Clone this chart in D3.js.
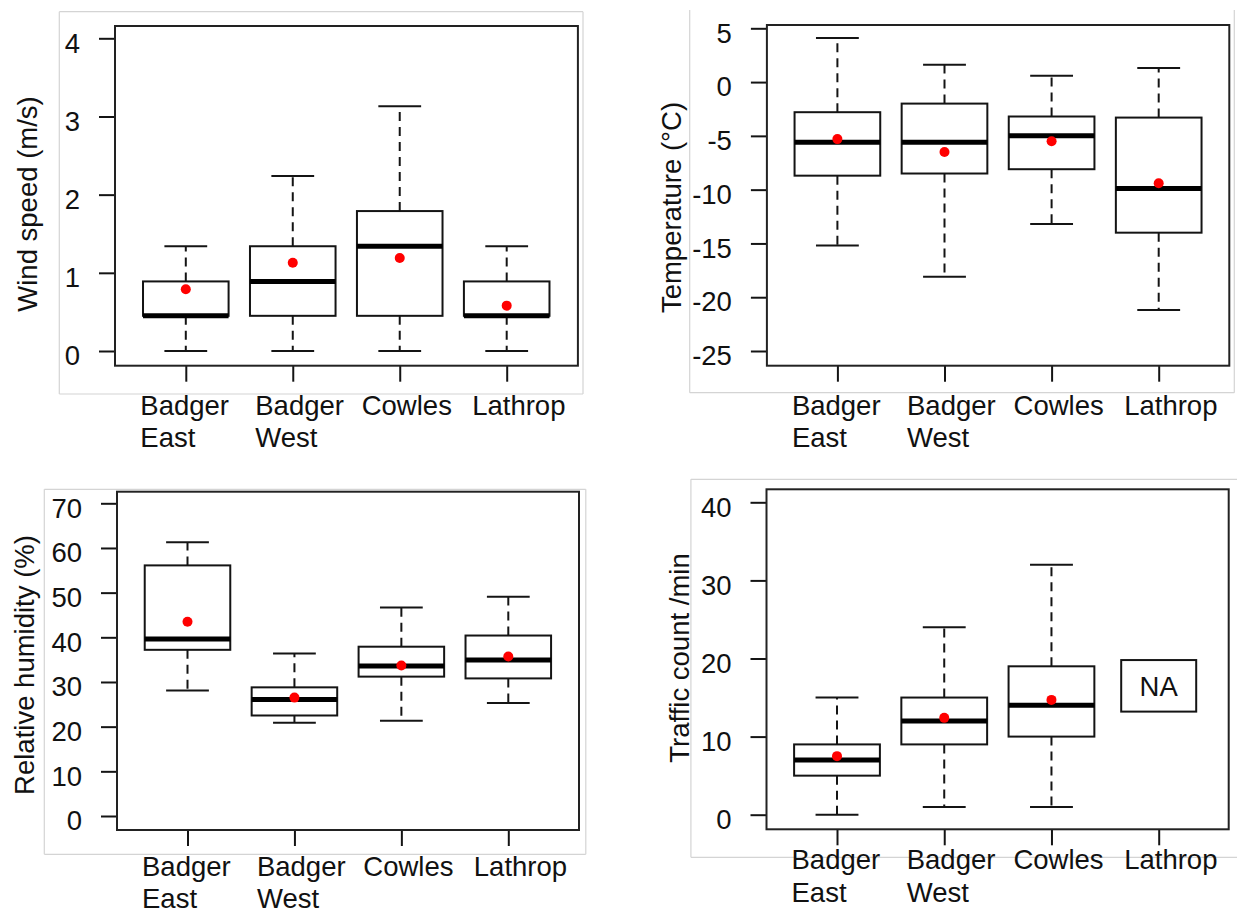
<!DOCTYPE html>
<html>
<head>
<meta charset="utf-8">
<script src="https://cdn.jsdelivr.net/npm/d3@7"></script>
<style>
  html, body { margin: 0; padding: 0; background: #fff; }
  svg { display: block; }
  text { font-family: "Liberation Sans", Arial, sans-serif; fill: #111; }
</style>
</head>
<body>
<svg id="chart" width="1237" height="915"></svg>
<script>
// ---------- DATA ----------
const categories = ["Badger East", "Badger West", "Cowles", "Lathrop"];
const categoryLines = [["Badger", "East"], ["Badger", "West"], ["Cowles"], ["Lathrop"]];

// Wind speed (m/s)
const windLower  = [0, 0, 0, 0];
const windQ1     = [0.45, 0.45, 0.45, 0.45];
const windMedian = [0.45, 0.89, 1.34, 0.45];
const windQ3     = [0.89, 1.34, 1.79, 0.89];
const windUpper  = [1.34, 2.24, 3.13, 1.34];
const windMean   = [0.79, 1.13, 1.19, 0.58];
const windTicks  = [0, 1, 2, 3, 4];
const windTickLabels = ["0", "1", "2", "3", "4"];

// Temperature (°C)
const tempLower  = [-15.2, -18.1, -13.2, -21.2];
const tempQ1     = [-8.7, -8.5, -8.1, -14.0];
const tempMedian = [-5.6, -5.6, -5.0, -9.9];
const tempQ3     = [-2.8, -2.0, -3.2, -3.3];
const tempUpper  = [4.1, 1.6, 0.6, 1.3];
const tempMean   = [-5.3, -6.5, -5.5, -9.4];
const tempTicks  = [5, 0, -5, -10, -15, -20, -25];
const tempTickLabels = ["5", "0", "-5", "-10", "-15", "-20", "-25"];

// Relative humidity (%)
const rhLower  = [28.1, 20.9, 21.3, 25.3];
const rhQ1     = [37.2, 22.5, 31.2, 30.8];
const rhMedian = [39.6, 26.1, 33.6, 34.9];
const rhQ3     = [56.1, 28.8, 37.9, 40.4];
const rhUpper  = [61.3, 36.4, 46.7, 49.1];
const rhMean   = [43.5, 26.5, 33.7, 35.7];
const rhTicks  = [0, 10, 20, 30, 40, 50, 60, 70];
const rhTickLabels = ["0", "10", "20", "30", "40", "50", "60", "70"];

// Traffic count /min (Lathrop: NA)
const trafficLower  = [0, 1, 1, null];
const trafficQ1     = [5, 9, 10, null];
const trafficMedian = [7, 12, 14, null];
const trafficQ3     = [9, 15, 19, null];
const trafficUpper  = [15, 24, 32, null];
const trafficMean   = [7.5, 12.4, 14.7, null];
const trafficTicks  = [0, 10, 20, 30, 40];
const trafficTickLabels = ["0", "10", "20", "30", "40"];
const trafficNALabel = "NA";
const trafficNARange = [13.2, 19.8];

// ---------- LAYOUT ----------
const FONT = 27.5;
const labelOffsets = [-45.5, -37.5, -38, -34.5];

const panels = [
  {
    title: "Wind speed (m/s)",
    lower: windLower, q1: windQ1, median: windMedian, q3: windQ3, upper: windUpper, mean: windMean,
    ticks: windTicks, tickLabels: windTickLabels,
    domain: [0, 4], yRange: [351, 38.3], xRange: [185.8, 506.7],
    frame: { x0: 59.3, y0: 11.7, x1: 583, y1: 394, sides: ["top", "right", "bottom", "left"] },
    plot: { x0: 115, y0: 26, x1: 577.9, y1: 365.7 },
    titlePos: [37, 204], labelBase: 415, lineGap: 32
  },
  {
    title: "Temperature (°C)",
    lower: tempLower, q1: tempQ1, median: tempMedian, q3: tempQ3, upper: tempUpper, mean: tempMean,
    ticks: tempTicks, tickLabels: tempTickLabels,
    domain: [-25, 5], yRange: [351, 28.3], xRange: [837.4, 1158.7],
    frame: { x0: 689.7, y0: 10, x1: 1234.3, y1: 392.7, sides: ["right", "bottom", "left"] },
    plot: { x0: 766.9, y0: 25, x1: 1229.3, y1: 365.7 },
    titlePos: [681, 207.5], labelBase: 415, lineGap: 32
  },
  {
    title: "Relative humidity (%)",
    lower: rhLower, q1: rhQ1, median: rhMedian, q3: rhQ3, upper: rhUpper, mean: rhMean,
    ticks: rhTicks, tickLabels: rhTickLabels,
    domain: [0, 70], yRange: [816, 503.3], xRange: [187.5, 508.3],
    frame: { x0: 44.3, y0: 489.3, x1: 585.8, y1: 854.3, sides: ["top", "right", "bottom", "left"] },
    plot: { x0: 117, y0: 491.7, x1: 579, y1: 830 },
    titlePos: [33.6, 665], labelBase: 876, lineGap: 32.3
  },
  {
    title: "Traffic count /min",
    lower: trafficLower, q1: trafficQ1, median: trafficMedian, q3: trafficQ3, upper: trafficUpper, mean: trafficMean,
    ticks: trafficTicks, tickLabels: trafficTickLabels,
    domain: [0, 40], yRange: [814.7, 502.3], xRange: [837, 1158.7],
    frame: { x0: 690.9, y0: 479.3, x1: 1240, y1: 857.3, sides: ["top", "bottom", "left"] },
    plot: { x0: 766.5, y0: 489.3, x1: 1228.7, y1: 829.3 },
    titlePos: [689, 658], labelBase: 869.3, lineGap: 32.4,
    na: { label: trafficNALabel, range: trafficNARange, index: 3 }
  }
];

// ---------- DRAW ----------
const svg = d3.select("#chart");
const INK = "#141414";

panels.forEach(p => {
  const g = svg.append("g");
  const y = d3.scaleLinear().domain(p.domain).range(p.yRange);
  const x = d3.scalePoint().domain(categories).range(p.xRange);
  const step = (p.xRange[1] - p.xRange[0]) / (categories.length - 1);
  const boxW = step * 0.8;
  const capW = step * 0.4;

  // light gray frame
  const f = p.frame;
  const sideLines = {
    top: [f.x0, f.y0, f.x1, f.y0],
    right: [f.x1, f.y0, f.x1, f.y1],
    bottom: [f.x0, f.y1, f.x1, f.y1],
    left: [f.x0, f.y0, f.x0, f.y1]
  };
  g.selectAll("line.frame").data(f.sides).join("line")
    .attr("class", "frame")
    .attr("x1", s => sideLines[s][0]).attr("y1", s => sideLines[s][1])
    .attr("x2", s => sideLines[s][2]).attr("y2", s => sideLines[s][3])
    .attr("stroke", "#d4d4d4").attr("stroke-width", 1.2);

  // y axis (ticks + labels) using d3 axis
  const yAxis = d3.axisLeft(y)
    .tickValues(p.ticks)
    .tickFormat((d, i) => p.tickLabels[i])
    .tickSize(16).tickSizeOuter(0).tickPadding(19);
  const ya = g.append("g").attr("transform", `translate(${p.plot.x0},0)`).call(yAxis);
  ya.select(".domain").remove();
  ya.selectAll(".tick line").attr("stroke", INK).attr("stroke-width", 2);
  ya.selectAll(".tick text")
    .attr("font-size", FONT).attr("fill", INK)
    .attr("font-family", "Liberation Sans, Arial, sans-serif")
    .attr("dy", "0.5em");

  // x axis ticks
  const xAxis = d3.axisBottom(x).tickSize(16).tickSizeOuter(0).tickFormat("");
  const xa = g.append("g").attr("transform", `translate(0,${p.plot.y1})`).call(xAxis);
  xa.select(".domain").remove();
  xa.selectAll(".tick line").attr("stroke", INK).attr("stroke-width", 2);

  // category labels
  categories.forEach((c, i) => {
    const t = g.append("text")
      .attr("x", x(c) + labelOffsets[i])
      .attr("y", p.labelBase)
      .attr("font-size", FONT)
      .attr("text-anchor", "start");
    categoryLines[i].forEach((ln, k) => {
      t.append("tspan")
        .attr("x", x(c) + labelOffsets[i])
        .attr("y", p.labelBase + k * p.lineGap)
        .text(ln);
    });
  });

  // axis title
  g.append("text")
    .attr("transform", `translate(${p.titlePos[0]},${p.titlePos[1]}) rotate(-90)`)
    .attr("text-anchor", "middle")
    .attr("font-size", FONT)
    .text(p.title);

  // boxplots
  const rows = categories.map((c, i) => ({
    c, lo: p.lower[i], q1: p.q1[i], med: p.median[i], q3: p.q3[i], hi: p.upper[i], mean: p.mean[i]
  })).filter(d => d.med !== null);

  const bg = g.append("g");
  // whiskers (dashed)
  bg.selectAll("line.wlo").data(rows).join("line")
    .attr("x1", d => x(d.c)).attr("x2", d => x(d.c))
    .attr("y1", d => y(d.q1)).attr("y2", d => y(d.lo))
    .attr("stroke", INK).attr("stroke-width", 2).attr("stroke-dasharray", "9,6");
  bg.selectAll("line.whi").data(rows).join("line")
    .attr("x1", d => x(d.c)).attr("x2", d => x(d.c))
    .attr("y1", d => y(d.q3)).attr("y2", d => y(d.hi))
    .attr("stroke", INK).attr("stroke-width", 2).attr("stroke-dasharray", "9,6");
  // caps
  ["lo", "hi"].forEach(k => {
    bg.selectAll("line.cap" + k).data(rows).join("line")
      .attr("x1", d => x(d.c) - capW / 2).attr("x2", d => x(d.c) + capW / 2)
      .attr("y1", d => y(d[k])).attr("y2", d => y(d[k]))
      .attr("stroke", INK).attr("stroke-width", 2);
  });
  // boxes
  bg.selectAll("rect.box").data(rows).join("rect")
    .attr("x", d => x(d.c) - boxW / 2).attr("width", boxW)
    .attr("y", d => y(d.q3)).attr("height", d => Math.max(0.01, y(d.q1) - y(d.q3)))
    .attr("fill", "#fff").attr("stroke", INK).attr("stroke-width", 2);
  // medians
  bg.selectAll("line.med").data(rows).join("line")
    .attr("x1", d => x(d.c) - boxW / 2).attr("x2", d => x(d.c) + boxW / 2)
    .attr("y1", d => y(d.med)).attr("y2", d => y(d.med))
    .attr("stroke", "#000").attr("stroke-width", 5);
  // means
  bg.selectAll("circle.mean").data(rows).join("circle")
    .attr("cx", d => x(d.c)).attr("cy", d => y(d.mean)).attr("r", 5)
    .attr("fill", "#ff0000");

  // NA box
  if (p.na) {
    const cx = x(categories[p.na.index]);
    const yTop = y(p.na.range[1]), yBot = y(p.na.range[0]);
    g.append("rect")
      .attr("x", cx - 37.5).attr("width", 75)
      .attr("y", yTop).attr("height", yBot - yTop)
      .attr("fill", "#fff").attr("stroke", INK).attr("stroke-width", 2);
    g.append("text")
      .attr("x", cx).attr("y", (yTop + yBot) / 2)
      .attr("dy", "0.36em")
      .attr("text-anchor", "middle")
      .attr("font-size", FONT)
      .text(p.na.label);
  }

  // plot border
  g.append("rect")
    .attr("x", p.plot.x0).attr("y", p.plot.y0)
    .attr("width", p.plot.x1 - p.plot.x0).attr("height", p.plot.y1 - p.plot.y0)
    .attr("fill", "none").attr("stroke", "#222").attr("stroke-width", 2);
});
</script>
</body>
</html>
